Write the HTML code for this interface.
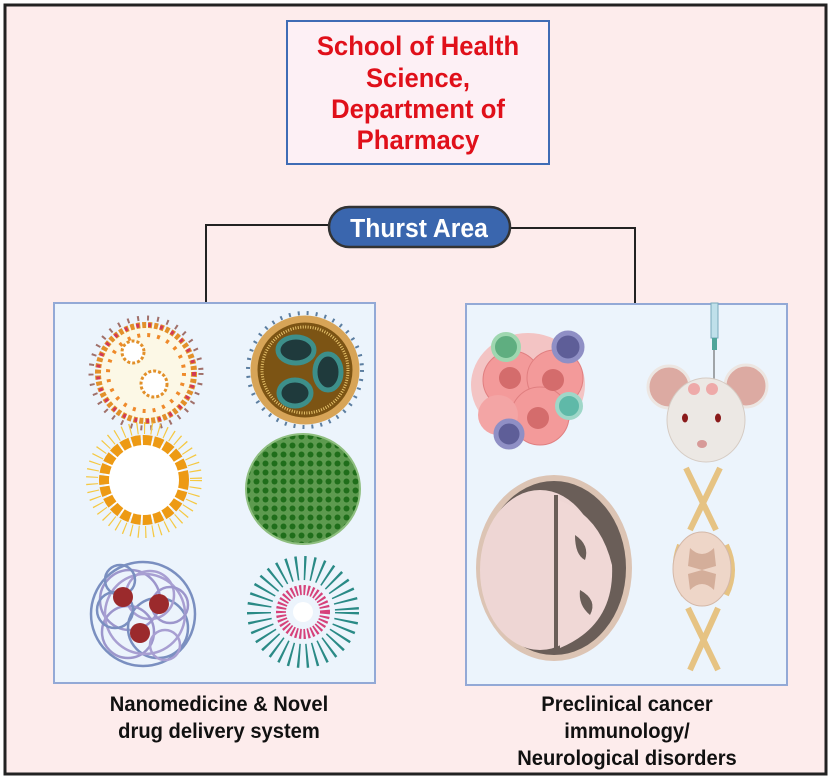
<!DOCTYPE html>
<html><head><meta charset="utf-8"><style>
html,body{margin:0;padding:0;background:#fff;}
svg{display:block;}
text{font-family:"Liberation Sans",Arial,sans-serif;font-weight:bold;}
</style></head><body>
<svg width="831" height="779" viewBox="0 0 831 779" xmlns="http://www.w3.org/2000/svg">
<defs>
<pattern id="gd" width="9" height="9" patternUnits="userSpaceOnUse"><rect width="9" height="9" fill="#5d9a4f"/><circle cx="4.5" cy="4.5" r="3" fill="#1f6e1a"/></pattern>
</defs>
<rect x="5" y="5" width="821" height="769" fill="#fdecec" stroke="#222" stroke-width="3"/>
<!-- title -->
<rect x="287" y="21" width="262" height="143" fill="#fdf0f5" stroke="#3f6cb5" stroke-width="2"/>
<g fill="#e0101a" font-size="27" text-anchor="middle">
<text x="418" y="55" transform="translate(418 0) scale(0.95 1) translate(-418 0)">School of Health</text>
<text x="418" y="87" transform="translate(418 0) scale(0.95 1) translate(-418 0)">Science,</text>
<text x="418" y="118" transform="translate(418 0) scale(0.95 1) translate(-418 0)">Department of</text>
<text x="418" y="149" transform="translate(418 0) scale(0.95 1) translate(-418 0)">Pharmacy</text>
</g>
<!-- connectors -->
<polyline points="328,225 206,225 206,302" fill="none" stroke="#222" stroke-width="2"/>
<polyline points="510,228 635,228 635,303" fill="none" stroke="#222" stroke-width="2"/>
<rect x="329" y="207" width="181" height="40" rx="20" fill="#3a66ae" stroke="#333" stroke-width="2.5"/>
<text x="419" y="237" fill="#fff" font-size="26" text-anchor="middle" transform="translate(419 0) scale(0.95 1) translate(-419 0)">Thurst Area</text>
<!-- panels -->
<rect x="54" y="303" width="321" height="380" fill="#ecf4fc" stroke="#93a9d6" stroke-width="2"/>
<rect x="466" y="304" width="321" height="381" fill="#ecf4fc" stroke="#93a9d6" stroke-width="2"/>
<!-- liposome -->
<circle cx="146" cy="373" r="55" fill="none" stroke="#a0706a" stroke-width="5" stroke-dasharray="2 8"/>
<circle cx="146" cy="373" r="48" fill="#fcf8e6" stroke="#e2902a" stroke-width="6" stroke-dasharray="4 2"/>
<circle cx="146" cy="373" r="48" fill="none" stroke="#d23a55" stroke-width="4" stroke-dasharray="3 9"/>
<circle cx="146" cy="373" r="38" fill="none" stroke="#ef8a2a" stroke-width="4" stroke-dasharray="3 7"/>
<circle cx="133" cy="352" r="11" fill="#fff" stroke="#e2902a" stroke-width="3" stroke-dasharray="3 2"/>
<circle cx="154" cy="384" r="13" fill="#fff" stroke="#e2902a" stroke-width="3" stroke-dasharray="3 2"/>
<!-- golden sphere -->
<circle cx="305" cy="370" r="57" fill="none" stroke="#5c7ea0" stroke-width="4" stroke-dasharray="2 7"/>
<circle cx="305" cy="370" r="51" fill="#7c5414" stroke="#d7a457" stroke-width="7"/>
<circle cx="305" cy="370" r="43" fill="none" stroke="#e5c16a" stroke-width="3" stroke-dasharray="1 1.5"/>
<ellipse cx="296" cy="350" rx="18" ry="13" fill="#1f3a3c" stroke="#3d8f8a" stroke-width="5"/>
<ellipse cx="328" cy="372" rx="13" ry="18" fill="#1f3a3c" stroke="#3d8f8a" stroke-width="5"/>
<ellipse cx="295" cy="393" rx="16" ry="13" fill="#1f3a3c" stroke="#3d8f8a" stroke-width="5"/>
<!-- ring micelle -->
<circle cx="144" cy="480" r="52" fill="none" stroke="#f5c842" stroke-width="12" stroke-dasharray="1.2 6"/>
<circle cx="144" cy="480" r="40" fill="#fff" stroke="#ed9a14" stroke-width="10" stroke-dasharray="9 2"/>
<circle cx="144" cy="480" r="34" fill="#fff"/>
<!-- green -->
<ellipse cx="303" cy="489" rx="57" ry="55" fill="url(#gd)" stroke="#8fbf80" stroke-width="2"/>
<!-- tangled -->
<g fill="none" stroke-width="2.5">
<circle cx="143" cy="614" r="52" stroke="#7a8fc0"/>
<circle cx="130" cy="600" r="30" stroke="#9c96cc"/>
<circle cx="158" cy="628" r="30" stroke="#7a8fc0"/>
<circle cx="150" cy="595" r="24" stroke="#a89fd2"/>
<circle cx="128" cy="632" r="26" stroke="#9c96cc"/>
<circle cx="145" cy="614" r="40" stroke="#a89fd2"/>
<circle cx="115" cy="610" r="18" stroke="#7a8fc0"/>
<circle cx="170" cy="605" r="18" stroke="#9c96cc"/>
<circle cx="120" cy="580" r="15" stroke="#7a8fc0"/>
<circle cx="165" cy="645" r="15" stroke="#a89fd2"/>
</g>
<circle cx="123" cy="597" r="10" fill="#9b2a2c"/>
<circle cx="159" cy="604" r="10" fill="#9b2a2c"/>
<circle cx="140" cy="633" r="10" fill="#9b2a2c"/>
<!-- teal micelle -->
<circle cx="303" cy="612" r="44" fill="none" stroke="#2a8a86" stroke-width="24" stroke-dasharray="2 6"/>
<circle cx="303" cy="612" r="22" fill="none" stroke="#d6417a" stroke-width="10" stroke-dasharray="2 2"/>
<circle cx="303" cy="612" r="10" fill="#fff"/>
<!-- tumor -->
<g>
<ellipse cx="528" cy="385" rx="57" ry="52" fill="#f3c4c4"/>
<circle cx="512" cy="380" r="29" fill="#f39a9a" stroke="#e07f80"/>
<circle cx="555" cy="378" r="28" fill="#f39a9a" stroke="#e07f80"/>
<circle cx="540" cy="416" r="29" fill="#f39a9a" stroke="#e07f80"/>
<circle cx="498" cy="415" r="20" fill="#f3a5a5"/>
<circle cx="510" cy="378" r="11" fill="#d46c6c"/>
<circle cx="553" cy="380" r="11" fill="#d46c6c"/>
<circle cx="538" cy="418" r="11" fill="#d46c6c"/>
<circle cx="506" cy="347" r="13" fill="#5fae80" stroke="#9fd7b0" stroke-width="4"/>
<circle cx="569" cy="406" r="12" fill="#5fb9a8" stroke="#9fd7c8" stroke-width="4"/>
<circle cx="568" cy="347" r="14" fill="#5e5e98" stroke="#8f8fc5" stroke-width="5"/>
<circle cx="509" cy="434" r="13" fill="#5e5e98" stroke="#8f8fc5" stroke-width="5"/>
</g>
<!-- mouse -->
<rect x="711" y="303" width="7" height="35" fill="#bfe0ea" stroke="#7aaabb"/>
<rect x="712" y="338" width="5" height="12" fill="#4fa59a"/>
<line x1="714" y1="350" x2="714" y2="385" stroke="#555"/>
<circle cx="669" cy="387" r="21" fill="#dcaaa2" stroke="#ece6e2" stroke-width="3"/>
<circle cx="746" cy="386" r="21" fill="#dcaaa2" stroke="#ece6e2" stroke-width="3"/>
<ellipse cx="706" cy="420" rx="39" ry="42" fill="#ece8e4" stroke="#d6ccc4"/>
<circle cx="694" cy="389" r="6" fill="#f09090" opacity="0.7"/>
<circle cx="712" cy="389" r="6" fill="#f09090" opacity="0.7"/>
<ellipse cx="685" cy="418" rx="3" ry="4.5" fill="#8a1a1a"/>
<ellipse cx="718" cy="418" rx="3" ry="4.5" fill="#8a1a1a"/>
<ellipse cx="702" cy="444" rx="5" ry="4" fill="#d79a98"/>
<!-- brain -->
<ellipse cx="554" cy="568" rx="78" ry="93" fill="#dcc4b4"/>
<ellipse cx="554" cy="568" rx="72" ry="87" fill="#6a5e58"/>
<ellipse cx="540" cy="570" rx="60" ry="80" fill="#eed6d4"/>
<path d="M558 500 Q600 515 612 565 Q615 625 560 648 Z" fill="#f0d8d6"/>
<path d="M575 535 Q590 545 585 560 Q575 555 575 535 Z M580 590 Q598 600 590 615 Q578 605 580 590 Z" fill="#6a5e58"/>
<path d="M556 495 L556 650" stroke="#6a5e58" stroke-width="4"/>
<!-- spinal -->
<path d="M686 468 L716 530 M720 468 L690 530 M688 608 L718 670 M718 608 L690 670" stroke="#e6c383" stroke-width="6" fill="none"/>
<path d="M680 545 Q670 570 684 595 M726 545 Q738 570 726 595" stroke="#e6c383" stroke-width="6" fill="none"/>
<ellipse cx="702" cy="569" rx="29" ry="37" fill="#eed6c8" stroke="#d4b8a8"/>
<path d="M690 548 Q702 560 714 548 L716 566 L702 570 L688 566 Z M690 590 Q702 578 714 590 L716 574 L702 570 L688 574 Z" fill="#d4ae9a"/>
<!-- labels -->
<g font-size="21" fill="#111" text-anchor="middle">
<text x="219" y="711" transform="translate(219 0) scale(0.96 1) translate(-219 0)">Nanomedicine &amp; Novel</text>
<text x="219" y="738" transform="translate(219 0) scale(0.96 1) translate(-219 0)">drug delivery system</text>
<text x="627" y="711" transform="translate(627 0) scale(0.96 1) translate(-627 0)">Preclinical cancer</text>
<text x="627" y="738" transform="translate(627 0) scale(0.96 1) translate(-627 0)">immunology/</text>
<text x="627" y="765" transform="translate(627 0) scale(0.96 1) translate(-627 0)">Neurological disorders</text>
</g>
</svg>
</body></html>
